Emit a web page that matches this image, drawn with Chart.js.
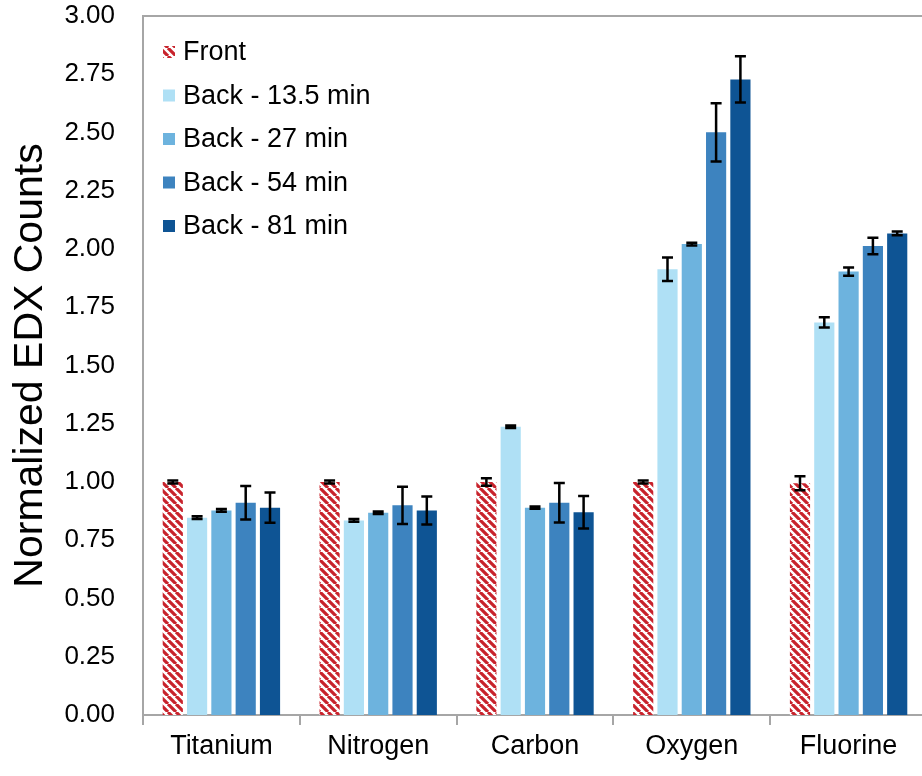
<!DOCTYPE html>
<html>
<head>
<meta charset="utf-8">
<script src="https://cdn.jsdelivr.net/npm/chart.js@4/dist/chart.umd.min.js"></script>
<style>
  html, body { margin: 0; padding: 0; background: #fff; overflow: hidden; }
  #wrap { width: 927px; height: 776px; }
</style>
</head>
<body>
<div id="wrap"><canvas id="c" width="927" height="776"></canvas></div>
<script>
const categories = ['Titanium', 'Nitrogen', 'Carbon', 'Oxygen', 'Fluorine'];
const seriesNames = ['Front', 'Back - 13.5 min', 'Back - 27 min', 'Back - 54 min', 'Back - 81 min'];
const front      = [1.000, 1.000, 1.000, 1.000, 0.995];
const frontErr   = [0.006, 0.006, 0.016, 0.006, 0.030];
const back135    = [0.847, 0.835, 1.237, 1.913, 1.685];
const back135Err = [0.006, 0.006, 0.005, 0.050, 0.022];
const back27     = [0.878, 0.868, 0.890, 2.021, 1.903];
const back27Err  = [0.006, 0.005, 0.005, 0.006, 0.018];
const back54     = [0.911, 0.900, 0.911, 2.501, 2.013];
const back54Err  = [0.072, 0.080, 0.085, 0.125, 0.035];
const back81     = [0.890, 0.878, 0.870, 2.728, 2.067];
const back81Err  = [0.065, 0.060, 0.070, 0.099, 0.008];
const yMin = 0, yMax = 3, yStep = 0.25;

const FONT = "'Liberation Sans', Arial, sans-serif";
const GRAY = '#a6a6a6';
const colors = [null, '#afe0f5', '#6db3de', '#3d83bf', '#0e5494'];

function makeHatch() {
  const s = 8;
  const pc = document.createElement('canvas');
  pc.width = s; pc.height = s;
  const g = pc.getContext('2d');
  g.fillStyle = '#ffffff';
  g.fillRect(0, 0, s, s);
  g.strokeStyle = '#c8232c';
  g.lineWidth = 3.2;
  g.beginPath();
  for (let k = -1; k <= 1; k++) {
    g.moveTo(k * s, 0);
    g.lineTo(k * s + s, s);
  }
  g.stroke();
  return document.getElementById('c').getContext('2d').createPattern(pc, 'repeat');
}
colors[0] = makeHatch();

const values = [front, back135, back27, back54, back81];
const errors = [frontErr, back135Err, back27Err, back54Err, back81Err];

const errorBarPlugin = {
  id: 'errorBars',
  afterDatasetsDraw(chart) {
    const ctx = chart.ctx;
    const ys = chart.scales.y;
    ctx.save();
    ctx.strokeStyle = '#000';
    ctx.lineWidth = 2.5;
    chart.data.datasets.forEach((ds, i) => {
      const meta = chart.getDatasetMeta(i);
      meta.data.forEach((bar, j) => {
        const v = ds.data[j], e = ds.errors[j];
        const x = bar.x;
        const yt = ys.getPixelForValue(v + e);
        const yb = ys.getPixelForValue(v - e);
        const cw = 5.5;
        ctx.beginPath();
        ctx.moveTo(x, yt); ctx.lineTo(x, yb);
        ctx.moveTo(x - cw, yt); ctx.lineTo(x + cw, yt);
        ctx.moveTo(x - cw, yb); ctx.lineTo(x + cw, yb);
        ctx.stroke();
      });
    });
    ctx.restore();
  }
};

const framePlugin = {
  id: 'frame',
  afterDraw(chart) {
    const ctx = chart.ctx;
    const a = chart.chartArea;
    ctx.save();
    ctx.strokeStyle = GRAY;
    ctx.lineWidth = 2;
    ctx.beginPath();
    ctx.moveTo(a.left - 1, a.top);
    ctx.lineTo(a.right, a.top);
    ctx.stroke();
    // legend
    ctx.font = '27px ' + FONT;
    ctx.textBaseline = 'middle';
    ctx.textAlign = 'left';
    const x0 = a.left + 20, y0 = 52, dy = 43.5;
    chart.data.datasets.forEach((ds, i) => {
      const y = y0 + i * dy;
      ctx.fillStyle = ds.backgroundColor;
      ctx.fillRect(x0, y - 6, 12, 12);
      ctx.fillStyle = '#000';
      ctx.fillText(ds.label, x0 + 20, y + 1);
    });
    ctx.restore();
  }
};

new Chart(document.getElementById('c'), {
  type: 'bar',
  data: {
    labels: categories,
    datasets: seriesNames.map((name, i) => ({
      label: name,
      data: values[i],
      errors: errors[i],
      backgroundColor: colors[i],
      borderWidth: 0,
      categoryPercentage: 0.775,
      barPercentage: 0.83
    }))
  },
  options: {
    responsive: false,
    animation: false,
    layout: { padding: { top: 16, right: 0, left: 0, bottom: 0 } },
    plugins: { legend: { display: false }, tooltip: { enabled: false } },
    scales: {
      x: {
        grid: { display: true, offset: true, drawOnChartArea: false, drawTicks: true, tickLength: 10, color: GRAY, lineWidth: 2 },
        border: { display: true, color: GRAY, width: 2 },
        ticks: { color: '#000', font: { family: FONT, size: 27 }, padding: 5 },
        afterFit(s) { s.height = 61; s.paddingLeft = 0; s.paddingRight = 0; }
      },
      y: {
        min: yMin, max: yMax,
        grid: { display: false, drawTicks: false },
        border: { display: true, color: GRAY, width: 2 },
        ticks: {
          stepSize: yStep, color: '#000', font: { family: FONT, size: 26 }, padding: 28,
          callback: (v) => Number(v).toFixed(2)
        },
        title: { display: true, text: 'Normalized EDX Counts', color: '#000', font: { family: FONT, size: 41 }, padding: { top: 6, bottom: 0 } },
        afterFit(s) { s.width = 143; s.paddingTop = 0; s.paddingBottom = 0; }
      }
    }
  },
  plugins: [errorBarPlugin, framePlugin]
});
</script>
</body>
</html>
